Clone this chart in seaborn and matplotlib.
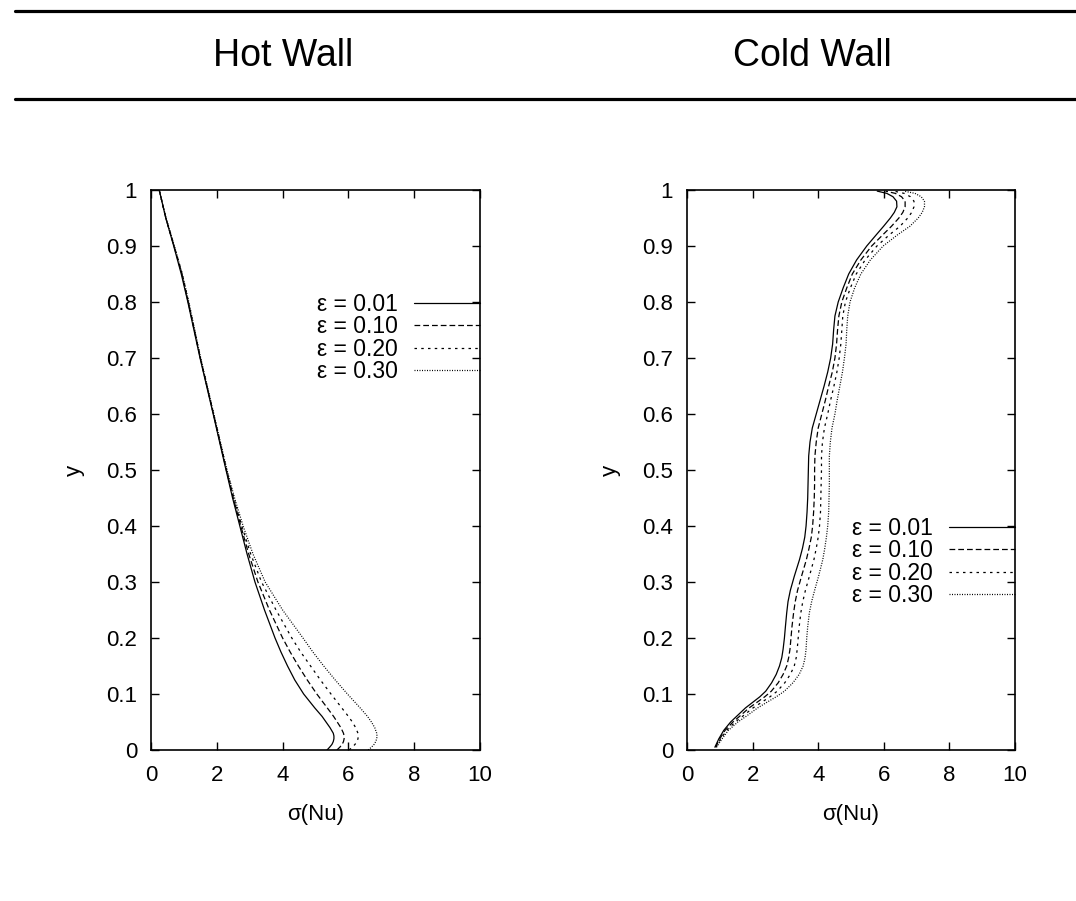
import matplotlib
matplotlib.use('Agg')
import matplotlib.pyplot as plt
from matplotlib.lines import Line2D
import pandas as pd
import seaborn as sns

# hot wall, sigma(Nu) against y
hot_y = [0.0, 0.005, 0.01, 0.015, 0.02, 0.025, 0.03, 0.04, 0.05, 0.06, 0.075, 0.1,
         0.125, 0.15, 0.175, 0.2, 0.25, 0.3, 0.35, 0.4, 0.45, 0.5, 0.6, 0.7, 0.8,
         0.85, 0.9, 0.95, 0.975, 1.0]
hot_e01 = [5.35, 5.43, 5.50, 5.54, 5.56, 5.56, 5.54, 5.44, 5.32, 5.20, 4.98, 4.64,
           4.37, 4.15, 3.95, 3.77, 3.45, 3.16, 2.92, 2.70, 2.48, 2.28, 1.89, 1.49, 1.12,
           0.92, 0.69, 0.45, 0.35, 0.25]
hot_e10 = [5.65, 5.74, 5.81, 5.85, 5.87, 5.87, 5.85, 5.77, 5.66, 5.55, 5.36, 5.04,
           4.75, 4.48, 4.23, 4.00, 3.60, 3.25, 2.97, 2.73, 2.50, 2.29, 1.90, 1.50, 1.13,
           0.94, 0.70, 0.45, 0.35, 0.25]
hot_e20 = [6.02, 6.12, 6.20, 6.26, 6.29, 6.30, 6.29, 6.22, 6.12, 6.00, 5.80, 5.47,
           5.15, 4.85, 4.55, 4.28, 3.80, 3.36, 3.03, 2.76, 2.52, 2.30, 1.90, 1.50, 1.14,
           0.95, 0.70, 0.45, 0.35, 0.25]
hot_e30 = [6.60, 6.70, 6.78, 6.83, 6.86, 6.87, 6.86, 6.80, 6.70, 6.58, 6.36, 5.97,
           5.60, 5.25, 4.92, 4.62, 4.00, 3.47, 3.10, 2.80, 2.54, 2.31, 1.91, 1.51, 1.15,
           0.95, 0.71, 0.46, 0.35, 0.25]

# cold wall
cold_y = [0.005, 0.02, 0.035, 0.05, 0.06, 0.075, 0.085, 0.095, 0.105, 0.12,
          0.135, 0.15, 0.165, 0.18, 0.2, 0.22, 0.245, 0.265, 0.285, 0.31,
          0.34, 0.36, 0.38, 0.4, 0.425, 0.45, 0.475, 0.5, 0.525, 0.55,
          0.575, 0.6, 0.625, 0.65, 0.675, 0.7, 0.725, 0.75, 0.775, 0.8,
          0.825, 0.85, 0.875, 0.9, 0.92, 0.935, 0.95, 0.96, 0.97, 0.98,
          0.988, 0.994, 0.998]
cold_e01 = [0.85, 0.97, 1.12, 1.33, 1.51, 1.78, 2.00, 2.22, 2.40, 2.58,
            2.72, 2.82, 2.89, 2.93, 2.97, 3.00, 3.04, 3.08, 3.15, 3.27,
            3.43, 3.52, 3.59, 3.63, 3.66, 3.68, 3.69, 3.70, 3.71, 3.75,
            3.82, 3.94, 4.06, 4.18, 4.29, 4.38, 4.44, 4.47, 4.51, 4.61,
            4.76, 4.93, 5.17, 5.48, 5.77, 5.99, 6.20, 6.32, 6.40, 6.39,
            6.28, 6.09, 5.80]
cold_e10 = [0.87, 1.00, 1.16, 1.40, 1.60, 1.89, 2.13, 2.37, 2.57, 2.78,
            2.93, 3.04, 3.10, 3.14, 3.17, 3.20, 3.25, 3.30, 3.37, 3.49,
            3.64, 3.72, 3.79, 3.83, 3.86, 3.88, 3.89, 3.89, 3.90, 3.94,
            4.00, 4.11, 4.22, 4.32, 4.43, 4.51, 4.56, 4.59, 4.63, 4.72,
            4.87, 5.04, 5.30, 5.63, 5.97, 6.23, 6.46, 6.58, 6.65, 6.65,
            6.54, 6.35, 6.05]
cold_e20 = [0.88, 1.03, 1.21, 1.47, 1.69, 2.01, 2.27, 2.53, 2.75, 2.98,
            3.15, 3.27, 3.33, 3.36, 3.39, 3.42, 3.47, 3.53, 3.61, 3.73,
            3.87, 3.94, 4.00, 4.04, 4.07, 4.08, 4.09, 4.10, 4.10, 4.13,
            4.19, 4.29, 4.38, 4.48, 4.57, 4.64, 4.69, 4.72, 4.75, 4.83,
            4.98, 5.16, 5.43, 5.79, 6.17, 6.49, 6.73, 6.85, 6.92, 6.92,
            6.81, 6.62, 6.31]
cold_e30 = [0.90, 1.07, 1.26, 1.55, 1.80, 2.15, 2.43, 2.72, 2.97, 3.23,
            3.42, 3.54, 3.60, 3.63, 3.65, 3.68, 3.73, 3.80, 3.89, 4.01,
            4.14, 4.20, 4.25, 4.29, 4.32, 4.33, 4.34, 4.34, 4.34, 4.37,
            4.42, 4.51, 4.58, 4.66, 4.74, 4.80, 4.85, 4.87, 4.90, 4.97,
            5.11, 5.30, 5.59, 5.98, 6.42, 6.79, 7.05, 7.17, 7.24, 7.24,
            7.14, 6.95, 6.62]

labels = ['ε = 0.01', 'ε = 0.10', 'ε = 0.20', 'ε = 0.30']
dash_list = [None, (4.6, 2.4), (2.0, 3.4), (0.8, 1.2)]
x_ticks = [0, 2, 4, 6, 8, 10]
y_ticks = [0, 0.1, 0.2, 0.3, 0.4, 0.5, 0.6, 0.7, 0.8, 0.9, 1]
y_ticklabels = ['0', '0.1', '0.2', '0.3', '0.4', '0.5', '0.6', '0.7', '0.8', '0.9', '1']

sns.set_style('ticks', {'xtick.direction': 'in', 'ytick.direction': 'in'})
plt.rcParams['font.family'] = ['Liberation Sans', 'DejaVu Sans']
plt.rcParams['text.color'] = 'black'
plt.rcParams['axes.labelcolor'] = 'black'
plt.rcParams['xtick.color'] = 'black'
plt.rcParams['ytick.color'] = 'black'

fig = plt.figure(figsize=(10.76, 9.01), dpi=100)

# two rules and the titles
fig.add_artist(Line2D([15/1076, 1.0], [1 - 10.5/901, 1 - 10.5/901], color='black', lw=2.3))
fig.add_artist(Line2D([15/1076, 1.0], [1 - 98.5/901, 1 - 98.5/901], color='black', lw=2.3))
fig.text(283/1076, 1 - 56/901, 'Hot Wall', ha='center', va='center', fontsize=27)
fig.text(812/1076, 1 - 56/901, 'Cold Wall', ha='center', va='center', fontsize=27)

ax1 = fig.add_axes([151/1076, 151/901, 329/1076, 560/901])
ax2 = fig.add_axes([687/1076, 151/901, 328/1076, 560/901])


def draw(ax, y, series, leg_top):
    for vals, lab, d in zip(series, labels, dash_list):
        df = pd.DataFrame({'x': vals, 'y': y})
        sns.lineplot(data=df, x='x', y='y', sort=False, estimator=None,
                     color='black', lw=0.9, ax=ax, label=lab)
        if d is not None:
            ax.lines[-1].set_dashes(d)
    ax.set_xlim(0, 10)
    ax.set_ylim(0, 1)
    ax.set_xticks(x_ticks)
    ax.set_yticks(y_ticks)
    ax.set_yticklabels(y_ticklabels)
    ax.tick_params(axis='both', which='both', direction='in', top=True, right=True,
                   length=6, width=1.0, labelsize=16, color='black')
    ax.tick_params(axis='x', pad=11)
    ax.tick_params(axis='y', pad=10)
    for s in ax.spines.values():
        s.set_linewidth(1.2)
        s.set_color('black')
    ax.set_xlabel('σ(Nu)', fontsize=16, labelpad=13)
    ax.set_ylabel('y', fontsize=16, labelpad=15)
    ax.legend(loc='upper right', bbox_to_anchor=(1.0, leg_top), frameon=False,
              markerfirst=False, handlelength=2.9, handletextpad=0.7,
              labelspacing=-0.03, borderpad=0, borderaxespad=0, fontsize=16.5)


draw(ax1, hot_y, [hot_e01, hot_e10, hot_e20, hot_e30], 0.816)
draw(ax2, cold_y, [cold_e01, cold_e10, cold_e20, cold_e30], 0.416)

fig.savefig('out.png', dpi=100)
